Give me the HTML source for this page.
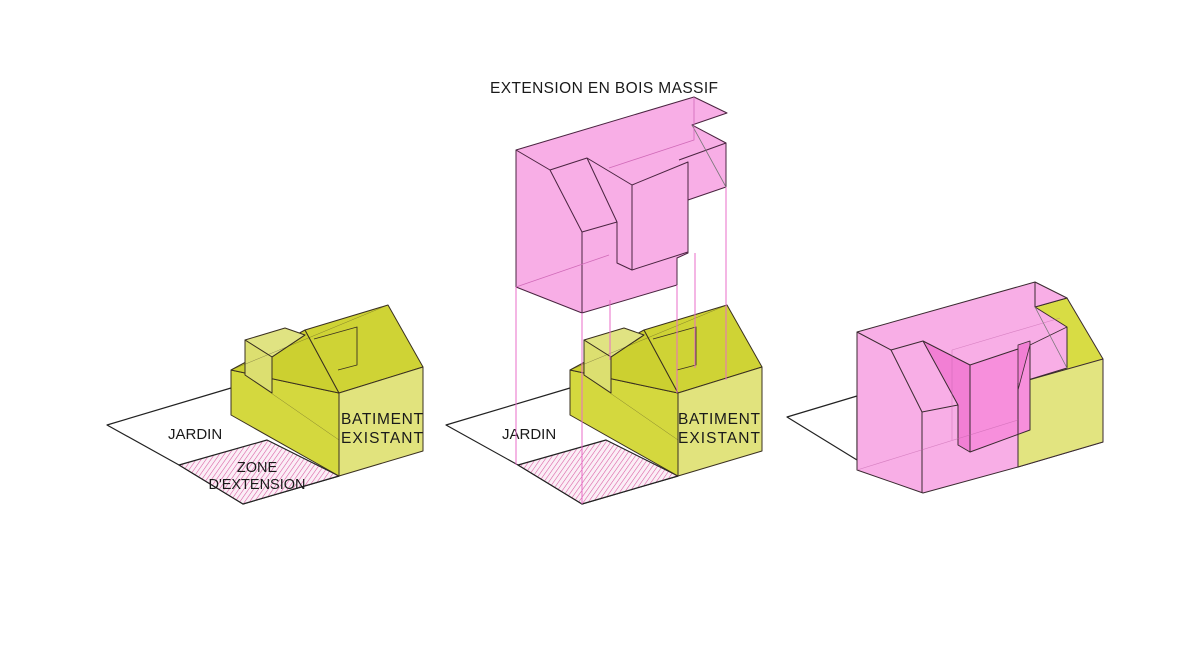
<!DOCTYPE html>
<html><head><meta charset="utf-8"><style>
html,body{margin:0;padding:0;background:#fff;}
svg{display:block;}
text{font-family:"Liberation Sans",sans-serif;fill:#1a1a1a;}
</style></head><body>
<svg width="1200" height="647" viewBox="0 0 1200 647" xmlns="http://www.w3.org/2000/svg">
<defs>
<pattern id="hatch" width="4" height="4" patternUnits="userSpaceOnUse" patternTransform="rotate(35)">
<rect width="4" height="4" fill="#fbeef6"/>
<line x1="0" y1="0" x2="0" y2="4" stroke="#d8589f" stroke-width="1.1"/>
</pattern>
<g id="house" stroke="#3a3020" stroke-width="1" stroke-linejoin="round">
  <polygon points="107,425 231,388 339,476 243,504 179,465" fill="#fff" stroke="#222" stroke-width="1.2"/>
  <polygon points="179,465 267,440 339,476 243,504" fill="url(#hatch)" stroke="#222" stroke-width="1.2"/>
  <polygon points="231,370 339,393 339,476 231,415" fill="#d4d83e"/>
  <polygon points="231,370 305,330 339,393" fill="#ccd030"/>
  <polygon points="245,340 285,328 305,335 272,357" fill="#e0e382"/>
  <polygon points="245,340 272,357 272,393 245,375" fill="#dcdf70"/>
  <line x1="272" y1="357" x2="305" y2="335"/>
  <polygon points="339,393 305,330 388,305 423,367" fill="#cfd335"/>
  <polyline points="314,339 357,327 357,365 338,370" fill="none" stroke-width="0.9"/>
  <line x1="231" y1="370" x2="388" y2="305" stroke-width="0.5" stroke-opacity="0.5"/>
  <line x1="245" y1="375" x2="339" y2="440" stroke-width="0.5" stroke-opacity="0.5"/>
  <polygon points="339,393 423,367 423,451 339,476" fill="#e1e37d"/>
</g>
</defs>

<use href="#house"/>
<text x="168" y="439" font-size="15">JARDIN</text>
<text x="257" y="472" font-size="14.5" text-anchor="middle">ZONE</text>
<text x="257" y="489" font-size="14.5" text-anchor="middle">D'EXTENSION</text>
<text x="341" y="424" font-size="15.5" textLength="82">BATIMENT</text>
<text x="341" y="443" font-size="15.5" textLength="82">EXISTANT</text>

<use href="#house" transform="translate(339,0)"/>
<text x="502" y="439" font-size="15">JARDIN</text>
<text x="678" y="424" font-size="15.5" textLength="82">BATIMENT</text>
<text x="678" y="443" font-size="15.5" textLength="82">EXISTANT</text>

<text x="490" y="93" font-size="15.5" textLength="228">EXTENSION EN BOIS MASSIF</text>

<g stroke="#4a2440" stroke-width="1" stroke-linejoin="round">
  <polygon points="516,150 694,97 727,113 692,125 726,143 726,187 688,200 688,253 677,258 677,285 582,313 516,287" fill="#f8aee6"/>
  <polyline points="516,150 550,170 587,158 632,185 688,162 688,252" fill="none"/>
  <polyline points="550,170 582,232 582,313" fill="none"/>
  <polyline points="587,158 617,222 617,263 632,270 688,252" fill="none"/>
  <polyline points="582,232 617,222" fill="none"/>
  <line x1="632" y1="185" x2="632" y2="270"/>
  <line x1="679" y1="160" x2="726" y2="143"/>
  <line x1="692" y1="125" x2="726" y2="187" stroke="#777" stroke-width="0.8"/>
  <polyline points="609,168 694,140 694,97" fill="none" stroke="#d06ab8" stroke-width="0.8"/>
  <line x1="516" y1="287" x2="609" y2="255" stroke="#d06ab8" stroke-width="0.7"/>
</g>
<g stroke="#e86cc8" stroke-width="1">
  <line x1="516" y1="287" x2="516" y2="465"/>
  <line x1="582" y1="313" x2="582" y2="504"/>
  <line x1="610" y1="300" x2="610" y2="360"/>
  <line x1="677" y1="285" x2="677" y2="393"/>
  <line x1="695" y1="253" x2="695" y2="368"/>
  <line x1="726" y1="187" x2="726" y2="380"/>
</g>

<g stroke="#3a2a30" stroke-width="1" stroke-linejoin="round">
  <polygon points="787,417 857,396 857,460" fill="#fff" stroke="#222" stroke-width="1.2"/>
  <polygon points="1035,307 1067,298 1103,359 1103,442 1018,467 1018,383" fill="#d8dc44"/>
  <polygon points="1018,383 1103,359 1103,442 1018,467" fill="#e2e480"/>
  <line x1="1035" y1="307" x2="1067" y2="368"/>
  <polygon points="857,332 1035,282 1067,298 1035,307 1067,327 1067,368 1018,383 1018,467 923,493 857,470" fill="#f8aee6"/>
  <polyline points="857,332 891,350 923,341" fill="none"/>
  <polyline points="891,350 922,412 922,493" fill="none"/>
  <line x1="922" y1="412" x2="958" y2="405"/>
  <polygon points="923,341 958,405 958,445 970,452 970,365" fill="#f27fd4"/>
  <polygon points="970,365 1030,345 1030,430 970,452" fill="#f78fdc"/>
  <polygon points="1018,345 1030,341 1030,345 1018,390" fill="#f27fd4" stroke-width="0.8"/>
  <line x1="1035" y1="282" x2="1035" y2="307"/>
  <line x1="1018" y1="383" x2="1018" y2="467"/>
  <line x1="1030" y1="345" x2="1067" y2="327" stroke-width="0.8"/>
  <line x1="1035" y1="307" x2="1067" y2="368" stroke="#777" stroke-width="0.8"/>
  <line x1="857" y1="470" x2="1018" y2="420" stroke="#c060a8" stroke-width="0.6" stroke-opacity="0.6"/>
  <line x1="952" y1="350" x2="952" y2="440" stroke="#c060a8" stroke-width="0.6" stroke-opacity="0.6"/>
  <line x1="952" y1="350" x2="1060" y2="318" stroke="#c060a8" stroke-width="0.6" stroke-opacity="0.6"/>
</g>
</svg>
</body></html>
